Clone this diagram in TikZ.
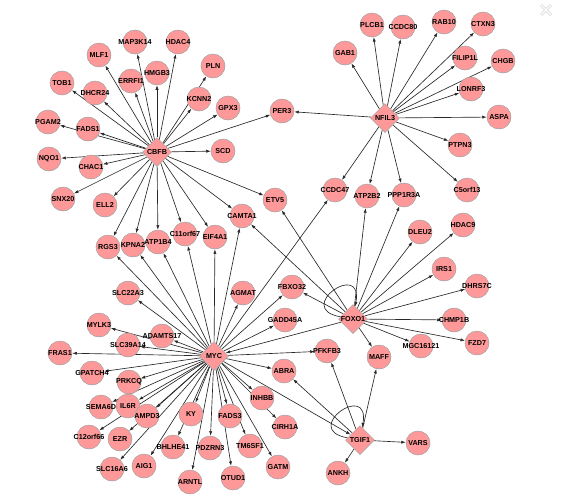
\documentclass[tikz,border=0pt]{standalone}
\usepackage{fontspec}
\setmainfont{Liberation Sans}
\usetikzlibrary{arrows.meta,shapes.geometric,backgrounds}
\definecolor{genefill}{RGB}{255,153,153}
\definecolor{geneline}{RGB}{160,160,160}
\definecolor{edgecol}{RGB}{40,40,40}
\tikzset{
  gene/.style={circle,minimum size=24pt,inner sep=0pt,fill=genefill,draw=geneline,
    line width=0.5pt,font=\fontsize{7.2}{8}\selectfont\bfseries},
  hub/.style={diamond,minimum size=29pt,inner sep=0pt,fill=genefill,draw=geneline,
    line width=0.5pt,font=\fontsize{7.2}{8}\selectfont\bfseries},
  edge/.style={draw=edgecol,line width=0.65pt,-{Latex[length=4.5pt,width=3.2pt]}},
  selfloop/.style={edge,out=170,in=80,distance=48pt}
}
\begin{document}
\begin{tikzpicture}[x=1pt,y=-1pt]
    \useasboundingbox (0,0) rectangle (576,496);
    %% hubs
    \foreach \n/\x/\y in {CBFB/157/152,NFIL3/385/118,FOXO1/353/319,MYC/214/356,TGIF1/360/440}
        \node[hub] (\n) at (\x,\y) {\makebox[0pt]{\n}};
    %% genes round CBFB
    \foreach \n/\x/\y in {MAP3K14/135/42,HDAC4/178/42,MLF1/99/55,PLN/213/66,HMGB3/157/73,
        ERRFI1/131/81,TOB1/62/83,DHCR24/95/93,KCNN2/199/99,GPX3/228/108,PER3/282/111,
        PGAM2/48/122,FADS1/88/129,SCD/223/151,NQO1/49/159,CHAC1/91/167,SNX20/63/199,
        ELL2/105/205,ETV5/275/200,CAMTA1/242/216,RGS3/108/247,KPNA2/133/245,
        ATP1B4/158/242,C11orf67/185/234,EIF4A1/215/237}
        \node[gene] (\n) at (\x,\y) {\makebox[0pt]{\n}};
    %% genes round MYC
    \foreach \n/\x/\y in {SLC22A3/128/293,AGMAT/243/293,FBXO32/292/287,MYLK3/99/325,
        ADAMTS17/162/336,GADD45A/285/320,SLC39A14/128/345,FRAS1/60/353,GPATCH4/92/373,
        PRKCQ/129/382,ABRA/284/371,INHBB/262/398,SEMA6D/101/407,IL6R/128/406,
        AMPD3/147/416,KY/191/414,FADS3/230/416,CIRH1A/285/427,C12orf66/89/437,
        EZR/120/439,BHLHE41/173/447,PDZRN3/210/448,TM6SF1/250/446,GATM/278/467,
        AIG1/144/466,SLC16A6/112/469,ARNTL/190/482,OTUD1/233/478}
        \node[gene] (\n) at (\x,\y) {\makebox[0pt]{\n}};
    %% genes round NFIL3, FOXO1 and TGIF1
    \foreach \n/\x/\y in {PLCB1/372/25,CCDC80/403/27,RAB10/444/22,CTXN3/483/24,
        GAB1/345/53,FILIP1L/465/58,CHGB/503/61,LONRF3/471/89,ASPA/499/117,
        PTPN3/460/145,CCDC47/335/190,ATP2B2/367/196,PPP1R3A/404/195,C5orf13/467/190,
        DLEU2/420/232,HDAC9/463/225,IRS1/444/269,DHRS7C/477/286,CHMP1B/454/320,
        FZD7/477/343,MGC16121/421/346,MAFF/379/357,PFKFB3/327/351,VARS/418/443,
        ANKH/338/473}
        \node[gene] (\n) at (\x,\y) {\makebox[0pt]{\n}};
    %% edges
    \begin{scope}[on background layer]
        \foreach \t in {MAP3K14,HDAC4,MLF1,PLN,HMGB3,ERRFI1,TOB1,DHCR24,KCNN2,GPX3,
            PER3,PGAM2,FADS1,SCD,NQO1,CHAC1,SNX20,ELL2,ETV5,CAMTA1,RGS3,KPNA2,
            ATP1B4,C11orf67,EIF4A1}
            \draw[edge] (CBFB) -- (\t);
        \foreach \t in {PER3,GAB1,PLCB1,CCDC80,RAB10,CTXN3,FILIP1L,CHGB,LONRF3,
            ASPA,PTPN3,C5orf13,CCDC47,ATP2B2,PPP1R3A}
            \draw[edge] (NFIL3) -- (\t);
        \foreach \t in {ETV5,CAMTA1,ATP2B2,PPP1R3A,DLEU2,HDAC9,IRS1,DHRS7C,CHMP1B,
            FZD7,MGC16121,MAFF,FBXO32,MYC}
            \draw[edge] (FOXO1) -- (\t);
        \foreach \t in {RGS3,KPNA2,ATP1B4,C11orf67,EIF4A1,CAMTA1,CCDC47,SLC22A3,
            AGMAT,FBXO32,GADD45A,MYLK3,ADAMTS17,SLC39A14,FRAS1,GPATCH4,PRKCQ,
            SEMA6D,IL6R,AMPD3,C12orf66,EZR,SLC16A6,AIG1,BHLHE41,KY,ARNTL,PDZRN3,
            OTUD1,FADS3,TM6SF1,GATM,INHBB,CIRH1A,ABRA,PFKFB3,TGIF1}
            \draw[edge] (MYC) -- (\t);
        \foreach \t in {PFKFB3,MAFF,VARS,ANKH,ABRA}
            \draw[edge] (TGIF1) -- (\t);
        %% self loops
        \draw[selfloop] (FOXO1) to (FOXO1);
        \draw[selfloop] (TGIF1) to (TGIF1);
    \end{scope}
    %% close button
    \draw[gray!35,line width=2.6pt] (541,5) -- (551,15) (541,15) -- (551,5);
    \draw[white,line width=1.2pt] (541,5) -- (551,15) (541,15) -- (551,5);
\end{tikzpicture}
\end{document}
